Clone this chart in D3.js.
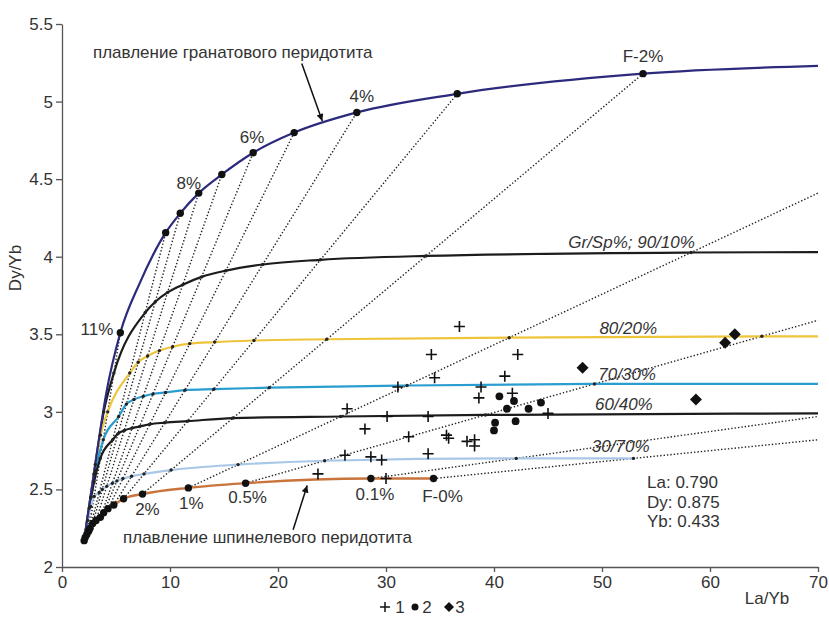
<!DOCTYPE html>
<html>
<head>
<meta charset="utf-8">
<script src="https://cdn.jsdelivr.net/npm/d3@7"></script>
<style>
body { margin: 0; background: #fff; }
svg { font-family: "Liberation Sans", Arial, sans-serif; }
</style>
</head>
<body>
<svg id="chart" width="829" height="619"></svg>
<script>
// tie lines: spinel melt -> garnet melt at the same degree of melting F
// (for F < 2% the garnet end is off the chart, so the far end is where the line leaves the frame)
var tieF  = ["0", "0.1", "0.5", "1", "2", "3", "4", "5", "6", "7", "8", "9", "10", "11", "12", "13"];
var spLa  = [34.4, 28.6, 17.0, 11.7, 7.45, 5.7, 4.8, 4.26, 3.86, 3.55, 3.15, 2.84, 2.6, 2.47, 2.3, 2.15];
var spDy  = [2.57, 2.57, 2.54, 2.51, 2.47, 2.44, 2.40, 2.376, 2.35, 2.32, 2.30, 2.28, 2.25, 2.23, 2.21, 2.19];
var endLa = [70, 70, 70, 70, 53.8, 36.6, 27.3, 21.5, 17.7, 14.8, 12.66, 10.95, 9.6, 5.4, 4.1, 3.2];
var endDy = [2.82, 2.97, 3.59, 4.41, 5.18, 5.05, 4.93, 4.80, 4.67, 4.53, 4.41, 4.28, 4.155, 3.51, 3.12, 2.72];

// source (start of every curve)
var sourceLa = 2.05, sourceDy = 2.17;

// garnet peridotite melting curve
var garnetLa = [2.05, 3.2, 4.1, 5.4, 7.2, 9.6, 10.95, 12.66, 14.8, 17.7, 21.5, 27.3, 36.6, 53.8, 70];
var garnetDy = [2.17, 2.72, 3.12, 3.51, 3.83, 4.155, 4.28, 4.41, 4.53, 4.67, 4.80, 4.93, 5.05, 5.18, 5.23];
var garnetDotF = ["2", "3", "4", "5", "6", "7", "8", "9", "10", "11"];

// mixing curves Gr/Sp: Dy/Yb where each curve crosses the tie line of each F (null = off chart)
var mix90 = [null, null, null, 4.027, 4.005, 3.98, 3.95, 3.91, 3.87, 3.82, 3.77, 3.71, 3.64, 3.25, 3.0, 2.66];
var mix80 = [null, null, 3.487, 3.478, 3.468, 3.46, 3.45, 3.44, 3.42, 3.395, 3.36, 3.32, 3.25, 3.0, 2.85, 2.6];
var mix70 = [null, null, 3.18, 3.17, 3.156, 3.146, 3.14, 3.125, 3.115, 3.10, 3.08, 3.05, 2.97, 2.82, 2.62, 2.45];
var mix60 = [null, null, 2.98, 2.97, 2.96, 2.94, 2.93, 2.92, 2.905, 2.895, 2.88, 2.86, 2.82, 2.70, 2.55, 2.38];
var mix30 = [2.70, 2.70, 2.685, 2.66, 2.625, 2.60, 2.585, 2.57, 2.555, 2.54, 2.52, 2.50, 2.48, 2.455, 2.39, 2.30];
// Dy/Yb where the curve reaches La/Yb = 70
var mixEdge = [4.03, 3.487, 3.18, 2.99, null];
var mixNames = ["Gr/Sp%; 90/10%", "80/20%", "70/30%", "60/40%", "30/70%"];

// samples
var s1La = [36.8, 34.2, 42.2, 34.5, 41.0, 31.1, 38.8, 41.7, 38.6, 26.4, 30.1, 33.9, 45.0, 28.05, 32.1, 35.6, 35.8, 37.5, 38.2, 38.2, 26.2, 28.6, 29.6, 33.9, 23.7, 30.0];
var s1Dy = [3.55, 3.37, 3.37, 3.22, 3.23, 3.16, 3.16, 3.12, 3.09, 3.02, 2.97, 2.97, 2.99, 2.89, 2.84, 2.85, 2.83, 2.81, 2.82, 2.78, 2.72, 2.71, 2.69, 2.73, 2.60, 2.57];
var s2La = [40.5, 41.85, 41.2, 43.2, 44.35, 42.0, 40.1, 40.0];
var s2Dy = [3.10, 3.07, 3.02, 3.02, 3.06, 2.94, 2.93, 2.88];
var s3La = [48.2, 61.4, 62.3, 58.7];
var s3Dy = [3.285, 3.446, 3.50, 3.08];

var xTicks = [0, 10, 20, 30, 40, 50, 60, 70];
var yTicks = [2, 2.5, 3, 3.5, 4, 4.5, 5, 5.5];

var svg = d3.select("#chart");
var x = d3.scaleLinear().domain([0, 70]).range([62, 818]);
var y = d3.scaleLinear().domain([2, 5.5]).range([567, 24]);
var ink = "#333";
var fs = 17;

// axes
var gx = svg.append("g").attr("transform", "translate(0,567)")
    .call(d3.axisBottom(x).tickValues(xTicks).tickSize(5).tickSizeOuter(0).tickPadding(4));
var gy = svg.append("g").attr("transform", "translate(62,0)")
    .call(d3.axisLeft(y).tickValues(yTicks).tickSize(6).tickSizeOuter(0).tickPadding(3).tickFormat(function (d) { return String(d); }));
[gx, gy].forEach(function (g) {
    g.selectAll("path, line").attr("stroke", "#555").attr("stroke-width", 1.3);
    g.selectAll("text").attr("fill", ink).attr("font-size", fs).attr("font-family", null);
});
svg.append("text").attr("x", 767).attr("y", 604).attr("text-anchor", "middle")
    .attr("font-size", fs).attr("fill", ink).text("La/Yb");
svg.append("text").attr("transform", "translate(21,268) rotate(-90)").attr("text-anchor", "middle")
    .attr("font-size", fs).attr("fill", ink).text("Dy/Yb");

// point on tie line i at a given Dy/Yb
function onTie(i, dy) {
    return [spLa[i] + (dy - spDy[i]) * (endLa[i] - spLa[i]) / (endDy[i] - spDy[i]), dy];
}

var line = d3.line()
    .x(function (d) { return x(d[0]); })
    .y(function (d) { return y(d[1]); })
    .curve(d3.curveMonotoneX);

// dotted tie lines
svg.append("g").selectAll("line").data(tieF).enter().append("line")
    .attr("x1", function (d, i) { return x(spLa[i]); })
    .attr("y1", function (d, i) { return y(spDy[i]); })
    .attr("x2", function (d, i) { return x(endLa[i]); })
    .attr("y2", function (d, i) { return y(endDy[i]); })
    .attr("stroke", "#222").attr("stroke-width", 1.4).attr("stroke-dasharray", "1.4,2");

// mixing curves
var mixes = [mix90, mix80, mix70, mix60, mix30];
var mixColors = ["#1c1c1c", "#eec53a", "#2a9dd0", "#1c1c1c", "#a9c7e6"];
var mixPts = mixes.map(function (m, k) {
    var pts = [];
    m.forEach(function (v, i) { if (v !== null) pts.push(onTie(i, v)); });
    return pts;
});
mixes.forEach(function (m, k) {
    var pts = mixPts[k].slice();
    pts.push([sourceLa, sourceDy]);
    if (mixEdge[k] !== null) pts.push([70, mixEdge[k]]);
    pts.sort(function (a, b) { return a[0] - b[0]; });
    svg.append("path").datum(pts).attr("d", line).attr("fill", "none")
        .attr("stroke", mixColors[k]).attr("stroke-width", 2.2);
});

// spinel peridotite melting curve
var spPts = [[sourceLa, sourceDy]];
spLa.forEach(function (v, i) { spPts.push([v, spDy[i]]); });
spPts.sort(function (a, b) { return a[0] - b[0]; });
svg.append("path").datum(spPts).attr("d", line).attr("fill", "none")
    .attr("stroke", "#c8743c").attr("stroke-width", 2.4);

// garnet curve
svg.append("path").datum(garnetLa.map(function (v, i) { return [v, garnetDy[i]]; }))
    .attr("d", line).attr("fill", "none").attr("stroke", "#2c2a7c").attr("stroke-width", 2.2);

// small dots where mixing curves cross tie lines
mixPts.forEach(function (pts) {
    svg.append("g").selectAll("circle").data(pts).enter().append("circle")
        .attr("cx", function (d) { return x(d[0]); })
        .attr("cy", function (d) { return y(d[1]); })
        .attr("r", 1.7).attr("fill", "#222");
});

// melt dots
svg.append("g").selectAll("circle").data(spPts).enter().append("circle")
    .attr("cx", function (d) { return x(d[0]); })
    .attr("cy", function (d) { return y(d[1]); })
    .attr("r", 3.7).attr("fill", "#111");
svg.append("g").selectAll("circle").data(garnetDotF).enter().append("circle")
    .attr("cx", function (d) { return x(endLa[tieF.indexOf(d)]); })
    .attr("cy", function (d) { return y(endDy[tieF.indexOf(d)]); })
    .attr("r", 3.7).attr("fill", "#111");

// F labels: [F, which curve, text, dx, dy, anchor]
var fLabels = [
    ["2", "gt", "F-2%", 0, -12, "middle"], ["4", "gt", "4%", 5, -10, "middle"],
    ["6", "gt", "6%", -1, -10, "middle"], ["8", "gt", "8%", -10, -4, "middle"],
    ["11", "gt", "11%", -7, 2, "end"],
    ["2", "sp", "2%", 5, 21, "middle"], ["1", "sp", "1%", 3, 21, "middle"],
    ["0.5", "sp", "0.5%", 2, 20, "middle"], ["0.1", "sp", "0.1%", 4, 21, "middle"],
    ["0", "sp", "F-0%", 9, 23, "middle"]
];
svg.append("g").selectAll("text").data(fLabels).enter().append("text")
    .attr("x", function (d) { var i = tieF.indexOf(d[0]); return x(d[1] == "gt" ? endLa[i] : spLa[i]) + d[3]; })
    .attr("y", function (d) { var i = tieF.indexOf(d[0]); return y(d[1] == "gt" ? endDy[i] : spDy[i]) + d[4]; })
    .attr("text-anchor", function (d) { return d[5]; })
    .attr("font-size", fs).attr("fill", ink)
    .text(function (d) { return d[2]; });

// mixing curve labels (right-aligned, just above each curve)
var mixLabelX = [58.6, 55.1, 55.0, 54.7, 54.4];
var mixLabelDy = [4.056, 3.50, 3.205, 3.012, 2.741];
svg.append("g").selectAll("text").data(mixNames).enter().append("text")
    .attr("x", function (d, i) { return x(mixLabelX[i]); })
    .attr("y", function (d, i) { return y(mixLabelDy[i]); })
    .attr("text-anchor", "end").attr("font-style", "italic")
    .attr("font-size", fs).attr("fill", ink)
    .text(function (d) { return d; });

// curve names with arrows
svg.append("defs").append("marker").attr("id", "head")
    .attr("viewBox", "0 0 10 10").attr("refX", 10).attr("refY", 5)
    .attr("markerWidth", 11).attr("markerHeight", 7).attr("markerUnits", "userSpaceOnUse")
    .attr("orient", "auto")
    .append("path").attr("d", "M0,0L10,5L0,10z").attr("fill", "#111");
svg.append("text").attr("x", x(2.87)).attr("y", y(5.281)).attr("font-size", fs).attr("fill", ink)
    .text("плавление гранатового перидотита");
svg.append("line").attr("x1", x(22.2)).attr("y1", y(5.245)).attr("x2", x(24.1)).attr("y2", y(4.875))
    .attr("stroke", "#111").attr("stroke-width", 1.5).attr("marker-end", "url(#head)");
svg.append("text").attr("x", x(5.65)).attr("y", y(2.155)).attr("font-size", fs).attr("fill", ink)
    .text("плавление шпинелевого перидотита");
svg.append("line").attr("x1", x(21.4)).attr("y1", y(2.24)).attr("x2", x(22.7)).attr("y2", y(2.525))
    .attr("stroke", "#111").attr("stroke-width", 1.5).attr("marker-end", "url(#head)");

// source composition
var srcText = ["La: 0.790", "Dy: 0.875", "Yb: 0.433"];
svg.append("g").selectAll("text").data(srcText).enter().append("text")
    .attr("x", x(54.17)).attr("y", function (d, i) { return y(2.509) + i * 19.5; })
    .attr("font-size", fs).attr("fill", ink).text(function (d) { return d; });

// samples
var crossPath = "M-5.5,0H5.5M0,-5.5V5.5";
var diamondPath = "M0,-6L6,0L0,6L-6,0Z";
svg.append("g").selectAll("path").data(s1La).enter().append("path")
    .attr("transform", function (d, i) { return "translate(" + x(d) + "," + y(s1Dy[i]) + ")"; })
    .attr("d", crossPath).attr("stroke", "#111").attr("stroke-width", 1.6);
svg.append("g").selectAll("circle").data(s2La).enter().append("circle")
    .attr("cx", function (d) { return x(d); })
    .attr("cy", function (d, i) { return y(s2Dy[i]); })
    .attr("r", 3.9).attr("fill", "#111");
svg.append("g").selectAll("path").data(s3La).enter().append("path")
    .attr("transform", function (d, i) { return "translate(" + x(d) + "," + y(s3Dy[i]) + ")"; })
    .attr("d", diamondPath).attr("fill", "#111");

// legend
var lg = svg.append("g").attr("transform", "translate(0,607)");
lg.append("path").attr("transform", "translate(385,0)").attr("d", "M-5,0H5M0,-5V5")
    .attr("stroke", "#111").attr("stroke-width", 1.5);
lg.append("circle").attr("cx", 415).attr("cy", 0).attr("r", 3.5).attr("fill", "#111");
lg.append("path").attr("transform", "translate(449,0)").attr("d", "M0,-5L5,0L0,5L-5,0Z").attr("fill", "#111");
var legendText = ["1", "2", "3"];
var legendX = [400, 427, 460];
lg.selectAll("text").data(legendText).enter().append("text")
    .attr("x", function (d, i) { return legendX[i]; }).attr("y", 6)
    .attr("text-anchor", "middle").attr("font-size", fs).attr("fill", ink)
    .text(function (d) { return d; });
</script>
</body>
</html>
